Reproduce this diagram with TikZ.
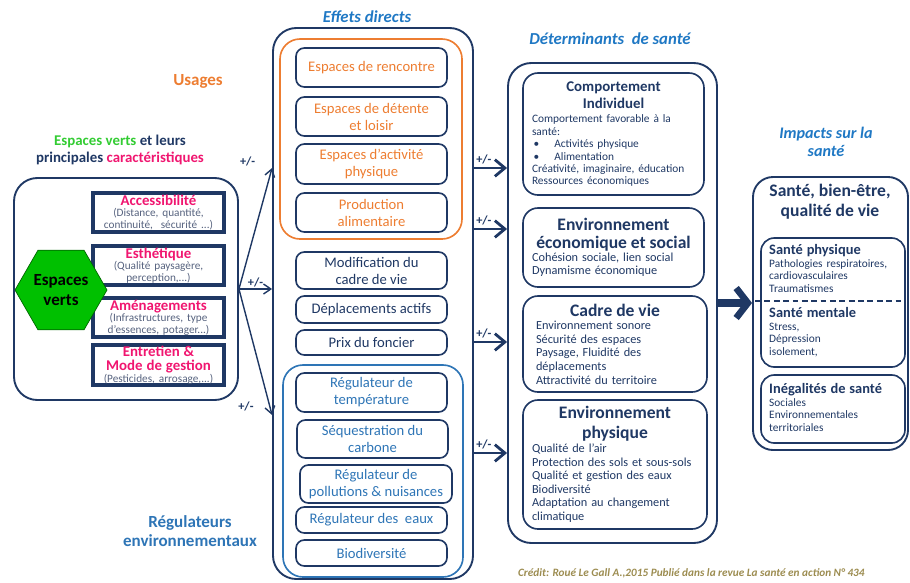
\documentclass[tikz,border=0pt]{standalone}
\usepackage{fontspec}
\setmainfont{Carlito}
\usetikzlibrary{arrows.meta, shapes.geometric}

\definecolor{deepblue}{HTML}{1F3864}
\definecolor{leaf}{HTML}{00C000}
\definecolor{leaftext}{HTML}{33CC33}
\definecolor{rose}{HTML}{F01670}
\definecolor{usage}{HTML}{ED7D31}
\definecolor{sky}{HTML}{2E75B6}
\definecolor{skytitle}{HTML}{1F78C4}
\definecolor{greyblue}{HTML}{56627E}
\definecolor{creditcol}{HTML}{9C8C50}

\newcommand{\setsize}[2]{\fontsize{#1}{#2}\selectfont}

\begin{document}
\begin{tikzpicture} [x=0.3mm, y=-0.3mm,
		panel/.style={draw=deepblue, line width=1.6pt, rounded corners=7mm},
		item/.style={draw=deepblue, line width=1.4pt, rounded corners=2.5mm, align=center, inner sep=1pt, text=deepblue, font=\setsize{12.5}{14.5}, minimum width=45.3mm},
		feature/.style={draw=deepblue, line width=2.6pt, align=center, inner sep=0pt, text width=38mm, minimum width=39.3mm, minimum height=11.7mm},
		det/.style={draw=deepblue, line width=1.4pt, rounded corners=4.5mm, text=deepblue, inner sep=0pt, align=left},
		inner/.style={anchor=north west, text=deepblue, inner sep=0pt, align=left, text width=42mm},
		heading/.style={font=\bfseries\itshape\setsize{14.3}{16.5}, text=skytitle, align=center},
		sign/.style={font=\bfseries\setsize{10.5}{12}, text=deepblue, inner sep=1pt},
		thin/.style={draw=deepblue, line width=1.2pt, -{Straight Barb[length=2.2mm, width=3mm]}},
		flow/.style={draw=deepblue, line width=2.4pt, -{Straight Barb[length=3mm, width=5mm]}}]
		\useasboundingbox (0,0) rectangle (910,582);

		% espaces verts
		\node (caract) [panel, minimum width=67.2mm, minimum height=66.6mm] at (126,289) {};
		\node (caractitle) [font=\bfseries\setsize{12.7}{15}, text=deepblue, align=center] at (120,150) {\textcolor{leaftext}{Espaces verts} et leurs\\principales \textcolor{rose}{caractéristiques}};
		\node (access) [feature] at (158.5,212.5) {{\color{rose}\bfseries\setsize{12.7}{13}Accessibilité\par}{\color{greyblue}\setsize{9.6}{9.8}(Distance, quantité,\\continuité,~ sécurité ...)\par}};
		\node (esthe) [feature] at (158.5,265.5) {{\color{rose}\bfseries\setsize{12.7}{13}Esthétique\par}{\color{greyblue}\setsize{9.6}{9.8}(Qualité paysagère,\\perception,...)\par}};
		\node (amenag) [feature] at (158.5,317.5) {{\color{rose}\bfseries\setsize{12.7}{13}Aménagements\par}{\color{greyblue}\setsize{9.6}{9.8}(Infrastructures, type\\d’essences, potager...)\par}};
		\node (entretien) [feature, minimum height=12mm] at (158.5,365) {{\color{rose}\bfseries\setsize{12.7}{12.5}Entretien \&\\Mode de gestion\par}{\color{greyblue}\setsize{9.6}{9.8}(Pesticides, arrosage,...)\par}};
		\node (verts) [regular polygon, regular polygon sides=6, fill=leaf, draw=green!40!black, line width=0.6pt, minimum size=27.6mm, inner sep=0pt, font=\bfseries\setsize{14.5}{17}, align=center] at (61,290) {Espaces\\verts};

		% effets directs
		\node (effets) [heading] at (367,17) {Effets directs};
		\node (direct) [panel, minimum width=60mm, minimum height=165.3mm] at (373,303.5) {};
		\node (usages) [draw=usage, line width=1.4pt, rounded corners=6mm, minimum width=54.6mm, minimum height=60mm] at (371,139) {};
		\node (usagelabel) [font=\bfseries\setsize{14.5}{17}, text=usage] at (198,81) {Usages};
		\node (rencontre) [item, text=usage, minimum height=11.7mm] at (371.5,67.5) {Espaces de rencontre};
		\node (detente) [item, text=usage, minimum height=11.7mm] at (371.5,116.5) {Espaces de détente\\et loisir};
		\node (activite) [item, text=usage, minimum height=12mm] at (371.5,164) {Espaces d’activité\\physique};
		\node (production) [item, text=usage, minimum height=11.7mm] at (371.5,212.5) {Production\\alimentaire};
		\node (modif) [item, minimum height=11.1mm] at (371.5,270.5) {Modification du\\cadre de vie};
		\node (deplacement) [item, minimum height=8.1mm] at (371.5,309.5) {Déplacements actifs};
		\node (foncier) [item, minimum height=7.5mm] at (371.5,342.5) {Prix du foncier};
		\node (regul) [draw=sky, line width=1.4pt, rounded corners=6mm, minimum width=54mm, minimum height=63.6mm] at (373,471) {};
		\node (regullabel) [font=\bfseries\setsize{14.5}{16.5}, text=sky, align=center] at (190,531) {Régulateurs\\environnementaux};
		\node (temperature) [item, text=sky, minimum height=11.7mm] at (371.5,392.5) {Régulateur de\\température};
		\node (carbone) [item, text=sky, minimum height=11.4mm] at (372.5,439) {Séquestration du\\carbone};
		\node (pollution) [item, text=sky, minimum height=11.4mm, minimum width=45.6mm] at (376,484) {Régulateur de\\pollutions \& nuisances};
		\node (eaux) [item, text=sky, minimum height=7.8mm] at (371.5,520) {Régulateur des~ eaux};
		\node (biodiv) [item, text=sky, minimum height=7.8mm] at (371.5,553) {Biodiversité};

		\coordinate (up) at (272,168);
		\coordinate (down) at (272,415);
		\draw [thin] (caract.east) -- (up -| direct.west) node [sign, at end, anchor=south east, xshift=-4.5mm] {+/-};
		\draw [thin] (caract.east) -- (caract.east -| direct.west) node [sign, midway, above=0pt] {+/-};
		\draw [thin] (caract.east) -- (down -| direct.west) node [sign, at end, anchor=south east, xshift=-5mm, yshift=0.6mm] {+/-};

		% determinants
		\node (determtitle) [heading] at (610,39) {Déterminants~ de santé};
		\node (determ) [panel, minimum width=62.7mm, minimum height=144mm] at (612.5,303) {};
		\node (comport) [det, minimum width=54.3mm, minimum height=36.6mm, text width=48.9mm] at (613.5,134) {%
			{\centering\bfseries\setsize{12.7}{14.5}Comportement\\Individuel\par}
			\vspace{2pt}
			{\setsize{9.7}{10.6}Comportement favorable à la\\santé:\\
			\hspace*{0.5mm}\textbullet\hspace{4.5mm}Activités physique\\
			\hspace*{0.5mm}\textbullet\hspace{4.5mm}Alimentation\\
			Créativité, imaginaire, éducation\\
			Ressources économiques\par}};
		\node (envsoc) [det, minimum width=54.3mm, minimum height=23.7mm, text width=48.9mm] at (613.5,247.5) {%
			{\centering\bfseries\setsize{15}{15.5}Environnement\\économique et social\par}
			{\setsize{10.5}{11.2}Cohésion sociale, lien social\\Dynamisme économique\par}};
		\node (cadre) [det, minimum width=55.2mm, minimum height=28.8mm, text width=47.4mm] at (615,344) {%
			{\centering\bfseries\setsize{15}{16}Cadre de vie\par}
			{\setsize{10.5}{11.6}Environnement sonore\\Sécurité des espaces\\Paysage, Fluidité des\\déplacements\\Attractivité du territoire\par}};
		\node (envphys) [det, minimum width=55.2mm, minimum height=38.7mm, text width=49.8mm] at (615,464.5) {%
			{\centering\bfseries\setsize{15}{17}Environnement\\physique\par}
			{\setsize{10.5}{11.6}Qualité de l’air\\Protection des sols et sous-sols\\Qualité et gestion des eaux\\Biodiversité\\Adaptation au changement\\climatique\par}};

		\coordinate (f1) at (0,168);
		\coordinate (f2) at (0,229);
		\coordinate (f3) at (0,342);
		\coordinate (f4) at (0,453);
		\draw [flow] (f1 -| direct.east) -- (f1 -| determ.west) node [sign, pos=0.3, above=1.5pt] {+/-};
		\draw [flow] (f2 -| direct.east) -- (f2 -| determ.west) node [sign, pos=0.3, above=1.5pt] {+/-};
		\draw [flow] (f3 -| direct.east) -- (f3 -| determ.west) node [sign, pos=0.3, above=1.5pt] {+/-};
		\draw [flow] (f4 -| direct.east) -- (f4 -| determ.west) node [sign, pos=0.3, above=1.5pt] {+/-};

		% impacts
		\node (impacttitle) [heading, font=\bfseries\itshape\setsize{13.8}{16}] at (826,142) {Impacts sur la\\santé};
		\node (impact) [panel, rounded corners=6mm, minimum width=46.5mm, minimum height=81.9mm] at (830.5,313.5) {};
		\node (wellbeing) [font=\bfseries\setsize{15}{17}, text=deepblue, align=center] at (830,202) {Santé, bien-être,\\qualité de vie};
		\node (phys) [det, rounded corners=4mm, minimum width=43.2mm, minimum height=38.7mm] at (833,302.5) {};
		\node (ineg) [det, rounded corners=4mm, minimum width=43.2mm, minimum height=20.4mm] at (833,409) {};
		\node (physt) [inner] at (769,244) {{\bfseries\setsize{12.3}{13.5}Santé physique\par}{\setsize{9.7}{10.9}Pathologies respiratoires,\\cardiovasculaires\\Traumatismes\par}};
		\node (mentalt) [inner] at (769,307) {{\bfseries\setsize{12.3}{13.5}Santé mentale\par}{\setsize{9.7}{10.9}Stress,\\Dépression\\isolement,\par}};
		\node (inegt) [inner] at (769,383) {{\bfseries\setsize{12.3}{13.5}Inégalités de santé\par}{\setsize{9.7}{10.9}Sociales\\Environnementales\\territoriales\par}};
		\coordinate (split) at (755,301);
		\draw [deepblue, line width=1.4pt, dash pattern=on 5pt off 3pt] (split) -- (split -| phys.east);

		\draw [deepblue, line width=2.6mm, -{Straight Barb[length=3.5mm, width=9mm, line width=2mm]}] (determ.east) -- (determ.east -| impact.west);

		\node (credit) [font=\bfseries\itshape\setsize{9.6}{11}, text=creditcol, anchor=west] at (514,573) {Crédit: Roué Le Gall A.,2015 Publié dans la revue La santé en action N° 434};
	\end{tikzpicture}
\end{document}
